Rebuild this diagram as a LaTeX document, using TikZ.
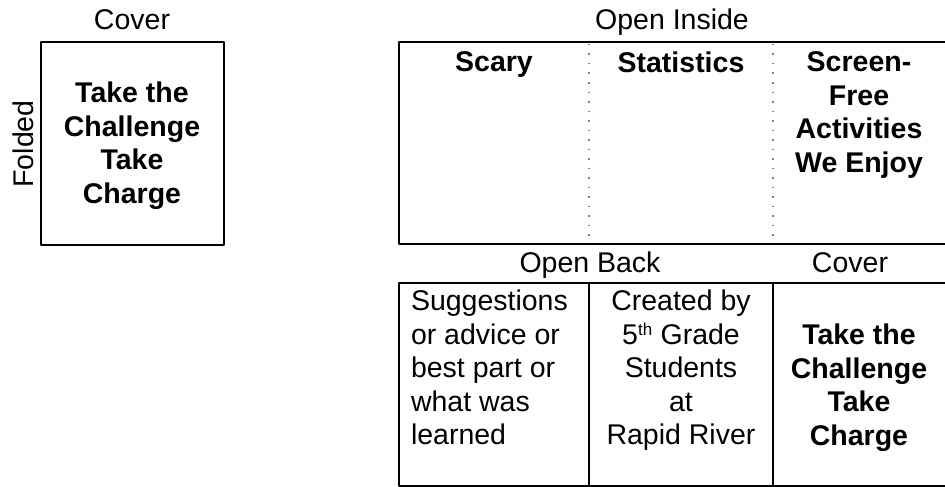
\documentclass[tikz,border=0pt]{standalone}
\usepackage{fontspec}
\setmainfont{Liberation Sans}
\newcommand\cardfont{\fontsize{28.5}{33.5}\selectfont}
\begin{document}
\begin{tikzpicture}[x=1pt, y=-1pt, line width=2pt, line join=round, font=\cardfont,
  lbl/.style={anchor=base, inner sep=0pt},
  txt/.style={anchor=north, inner sep=0pt, align=center},
  bold/.style={txt, font=\cardfont\bfseries},
  fold/.style={gray, line width=1.5pt, dash pattern=on 1.5pt off 8pt}]
 \useasboundingbox (0,0) rectangle (945,487);
 % folded card, cover side
 \draw (41,42) rectangle (224,245);
 \node[lbl] (cover) at (132,30) {Cover};
 \node[lbl, rotate=90] (folded) at (33,144) {Folded};
 \node[bold] (title) at (132,81) {Take the\\Challenge\\Take\\Charge};
 % opened card, inside
 \draw (399,42) rectangle (948,244);
 \draw[fold] (589,44)--(589,242) (773,44)--(773,242);
 \node[lbl] (inside) at (672,30) {Open Inside};
 \node[bold] (scary) at (494,51) {Scary};
 \node[bold] (stats) at (681,51) {Statistics};
 \node[bold] (screen) at (859,51) {Screen-\\Free\\Activities\\We Enjoy};
 % opened card, back
 \draw (399,283) rectangle (948,486) (589,283)--(589,486) (773,283)--(773,486);
 \node[lbl] (back) at (590,272) {Open Back};
 \node[lbl] (backcover) at (850,272) {Cover};
 \node[txt, anchor=north west, align=left] (advice) at (410,289) {Suggestions\\or advice or\\best part or\\what was\\learned};
 \node[txt] (credit) at (681,289) {Created by\\5\textsuperscript{\fontsize{17}{17}\selectfont th} Grade\\Students\\at\\Rapid River};
 \node[bold] (backtitle) at (859,323) {Take the\\Challenge\\Take\\Charge};
\end{tikzpicture}
\end{document}
